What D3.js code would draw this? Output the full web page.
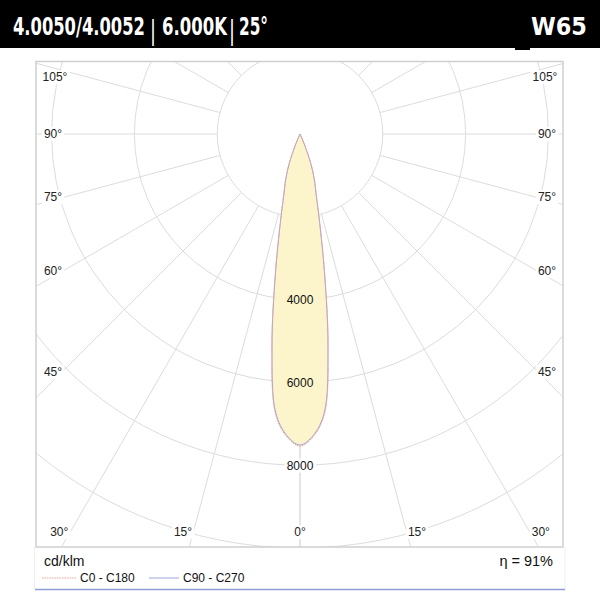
<!DOCTYPE html>
<html><head><meta charset="utf-8">
<script src="https://cdn.jsdelivr.net/npm/d3@7/dist/d3.min.js"></script>
<style>
html,body{margin:0;padding:0;background:#fff;}
svg{display:block;}
</style></head>
<body>
<svg id="chart" width="600" height="600"></svg>
<script>
// ---- data ----
const titleParts = ["4.0050/4.0052", "6.000K", "25°"];
const badge = "W65";
const gammaAngles = [0, 2.5, 5, 7.5, 10, 12.5, 15, 17.5, 20, 22.5, 25, 27.5, 30];
const c0c180 = [7540, 7320, 6790, 5210, 3440, 2210, 1520, 1160, 790, 330, 90, 20, 0];
const c90c270 = [7510, 7290, 6750, 5180, 3410, 2190, 1500, 1140, 770, 320, 85, 18, 0];
const ringValues = [2000, 4000, 6000, 8000, 10000, 12000];
const ringLabels = [4000, 6000, 8000];
const angleTicks = [0, 15, 30, 45, 60, 75, 90, 105];
const spokeAngles = [0, 15, 30, 45, 60, 75, 90, 105, 120, 135, 150, 165, 180];
const seriesNames = ["C0 - C180", "C90 - C270"];
const unitLabel = "cd/klm";
const efficiency = "η = 91%";

// ---- layout ----
const svg = d3.select("#chart");
const W = 600;
const frame = {x0: 36, y0: 61.5, x1: 563, y1: 547};
const cx = 300, cy = 134;
const r = d3.scaleLinear().domain([0, 10000]).range([0, 414]);
const font = "'Liberation Sans', Arial, Helvetica, sans-serif";
const gridColor = "#dcdcdc";
const colC0 = "#f0a294", colC90 = "#9ea4e0";

svg.append("rect").attr("width", W).attr("height", 600).attr("fill", "#fff");

svg.append("clipPath").attr("id", "frameClip").append("rect")
  .attr("x", frame.x0).attr("y", frame.y0)
  .attr("width", frame.x1 - frame.x0).attr("height", frame.y1 - frame.y0);

const plot = svg.append("g").attr("clip-path", "url(#frameClip)");
const g = plot.append("g").attr("transform", `translate(${cx},${cy})`);

// rings
g.selectAll("circle.ring").data(ringValues).join("circle")
  .attr("class", "ring").attr("r", d => r(d))
  .attr("fill", "none").attr("stroke", gridColor).attr("stroke-width", 1);

// spokes (both sides), starting at the first ring
const rad = d => d * Math.PI / 180;
const spokes = [];
spokeAngles.forEach(a => { spokes.push(a); if (a !== 0 && a !== 180) spokes.push(-a); });
g.selectAll("line.spoke").data(spokes).join("line")
  .attr("class", "spoke")
  .attr("x1", d => r(ringValues[0]) * Math.sin(rad(d)))
  .attr("y1", d => r(ringValues[0]) * Math.cos(rad(d)))
  .attr("x2", d => 900 * Math.sin(rad(d)))
  .attr("y2", d => 900 * Math.cos(rad(d)))
  .attr("stroke", gridColor).attr("stroke-width", 1);
// 0° spoke runs all the way from the centre
g.append("line").attr("x1", 0).attr("y1", 0).attr("x2", 0).attr("y2", 900)
  .attr("stroke", gridColor).attr("stroke-width", 1);

// ---- curves ----
function polarPoints(vals) {
  const pts = [];
  for (let i = gammaAngles.length - 1; i >= 0; i--) pts.push({a: Math.PI + rad(gammaAngles[i]), v: vals[i]});
  for (let i = 1; i < gammaAngles.length; i++) pts.push({a: Math.PI - rad(gammaAngles[i]), v: vals[i]});
  return pts;
}
const radial = d3.lineRadial().angle(d => d.a).radius(d => r(d.v)).curve(d3.curveCatmullRom.alpha(0.5));

g.append("path").attr("d", radial(polarPoints(c0c180)) + "Z")
  .attr("fill", "#fcf5cc").attr("stroke", "none");
g.append("path").attr("d", radial(polarPoints(c90c270)))
  .attr("fill", "none").attr("stroke", colC90).attr("stroke-width", 1);
g.append("path").attr("d", radial(polarPoints(c0c180)))
  .attr("fill", "none").attr("stroke", colC0).attr("stroke-width", 1).attr("stroke-dasharray", "1.5,1");

// helper to add a text with a background box
function labelWithBg(parent, x, y, txt, bg, opts = {}) {
  const grp = parent.append("g");
  const t = grp.append("text").attr("x", x).attr("y", y)
    .attr("text-anchor", "middle").attr("dominant-baseline", "central")
    .attr("font-family", font).attr("font-size", opts.size || 12)
    .attr("fill", opts.color || "#222").text(txt);
  if (bg) {
    const b = t.node().getBBox();
    grp.insert("rect", "text").attr("x", b.x - 2).attr("y", b.y)
      .attr("width", b.width + 4).attr("height", b.height).attr("fill", bg);
  }
  return grp;
}

// ring labels
ringLabels.forEach(v => {
  const inside = v < c0c180[0];
  labelWithBg(g, 0, r(v) + 0.5, d3.format("d")(v), inside ? null : "#fff", {size: 12, color: "#111"});
});

// angle labels at the frame inset
const inset = {x0: 53, x1: 547, y1: 532};
const labelLayer = svg.append("g");
angleTicks.forEach(a => {
  [-1, 1].forEach(side => {
    if (a === 0 && side === 1) return;
    const dx = Math.sin(rad(a)) * side, dy = Math.cos(rad(a));
    let x, y;
    const tSide = Math.abs(dx) > 1e-9 ? (side < 0 ? (cx - inset.x0) : (inset.x1 - cx)) / Math.abs(dx) : Infinity;
    const tBot = dy > 1e-9 ? (inset.y1 - cy) / dy : Infinity;
    if (tSide < tBot) {
      x = cx + dx * tSide; y = cy + dy * tSide;
      y += a > 90 ? (a - 90) * 0.6 : -(90 - a) / 5;
      if (a > 90) x += -side * 2;
    } else {
      x = cx + dx * tBot; y = cy + dy * tBot;
      x += side * Math.min(11, Math.abs(dx) * 40);
    }
    labelWithBg(labelLayer, x, y, a + "°", "#fff", {size: 12, color: "#222"});
  });
});

// frame
svg.append("rect").attr("x", frame.x0).attr("y", frame.y0)
  .attr("width", frame.x1 - frame.x0).attr("height", frame.y1 - frame.y0)
  .attr("fill", "none").attr("stroke", "#cfcfcf").attr("stroke-width", 1.5);
// faint legend box sides
svg.append("line").attr("x1", 34.5).attr("x2", 34.5).attr("y1", frame.y1).attr("y2", 589)
  .attr("stroke", "#eeeeee");
svg.append("line").attr("x1", 565).attr("x2", 565).attr("y1", frame.y1).attr("y2", 589)
  .attr("stroke", "#eeeeee");
svg.append("line").attr("x1", 35).attr("x2", 565).attr("y1", 589.5).attr("y2", 589.5)
  .attr("stroke", "#8f9cd8").attr("stroke-width", 1.5);

// ---- header ----
svg.append("rect").attr("x", 0).attr("y", 0).attr("width", W).attr("height", 48).attr("fill", "#000");
svg.append("rect").attr("x", 515).attr("y", 47).attr("width", 15).attr("height", 3).attr("fill", "#000");
const hFont = "'Liberation Sans Narrow', 'DejaVu Sans Condensed', 'Liberation Sans', sans-serif";
const head = svg.append("g").attr("fill", "#fff").attr("font-family", hFont).attr("font-weight", "bold");

// narrow a text to a target width by horizontal scaling
function fittedText(parent, x, y, txt, targetW, size, extra = {}) {
  const t = parent.append("text").attr("x", 0).attr("y", 0).attr("font-size", size).text(txt);
  Object.entries(extra).forEach(([k, v]) => t.attr(k, v));
  const w = t.node().getComputedTextLength();
  const s = w > 0 ? targetW / w : 1;
  t.attr("transform", `translate(${x},${y}) scale(${s},1)`);
  return t;
}
const titleX = [13, 162, 239], titleW = [132, 65, 29];
titleParts.forEach((t, i) => fittedText(head, titleX[i], 35, t, titleW[i], 24));
[153, 232].forEach(x => {
  fittedText(head, x - 3, 39, "|", 6, 27, {"font-weight": "normal", "font-family": "'DejaVu Sans', sans-serif"});
});
fittedText(head, 531, 35, badge, 56, 25);

// ---- legend ----
const leg = svg.append("g").attr("font-family", font).attr("fill", "#111");
leg.append("text").attr("x", 44).attr("y", 566).attr("font-size", 14).text(unitLabel);
leg.append("text").attr("x", 553).attr("y", 566).attr("text-anchor", "end").attr("font-size", 14.5).text(efficiency);
const legItems = [
  {name: seriesNames[0], color: colC0, dash: "1.5,1", x0: 42, x1: 76, tx: 80},
  {name: seriesNames[1], color: colC90, dash: null, x0: 149, x1: 179, tx: 183}
];
legItems.forEach(it => {
  leg.append("line").attr("x1", it.x0).attr("x2", it.x1).attr("y1", 578).attr("y2", 578)
    .attr("stroke", it.color).attr("stroke-width", 1).attr("stroke-dasharray", it.dash);
  leg.append("text").attr("x", it.tx).attr("y", 582).attr("font-size", 12).text(it.name);
});
</script>
</body></html>
